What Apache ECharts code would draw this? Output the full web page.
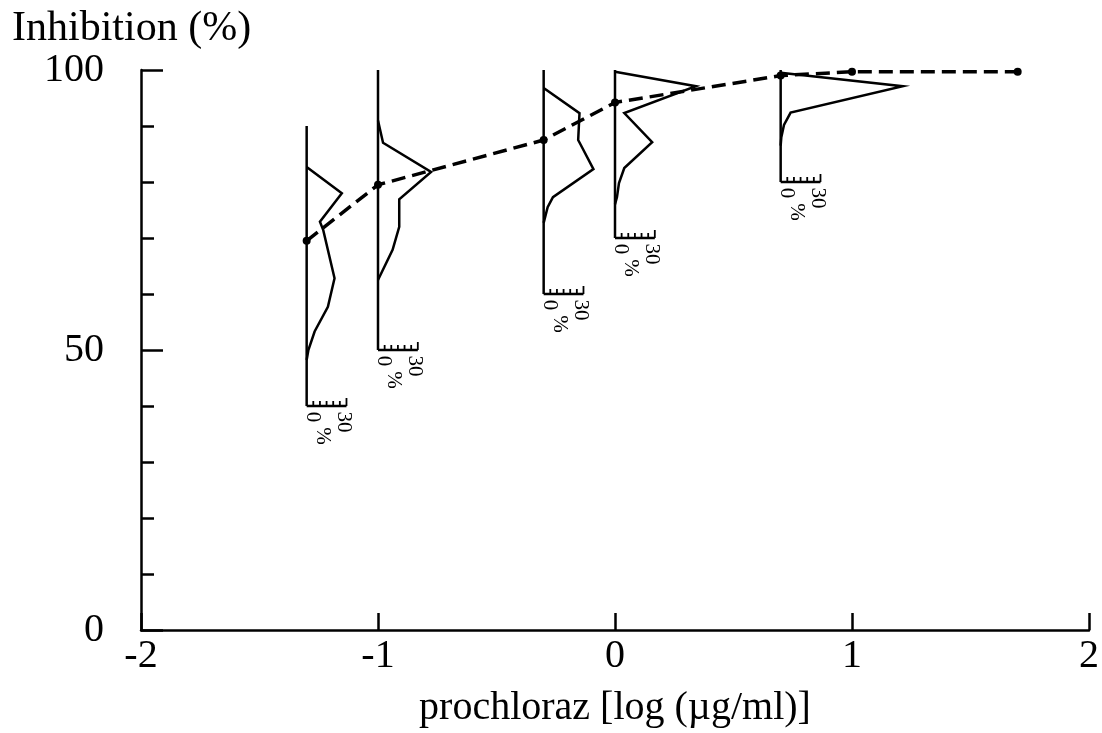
<!DOCTYPE html>
<html>
<head>
<meta charset="utf-8">
<script src="https://cdn.jsdelivr.net/npm/echarts@6/dist/echarts.min.js"></script>
<style>
  html, body { margin: 0; padding: 0; background: #fff; }
  #chart { width: 1102px; height: 733px; }
</style>
</head>
<body>
<div id="chart"></div>
<script>
// 剂量-抑制曲线 + 各剂量下的抑制分布（竖向小直方图）
const FONT = "'Liberation Serif', 'Times New Roman', serif";

// 平均抑制率（虚线）
const doseLog = [-1.301, -1, -0.301, 0, 0.699, 1, 1.699];
const meanInhib = [69.5, 79.5, 87.5, 94.2, 99, 99.7, 99.7];

// 分布图：所在剂量、纵轴上下限、轮廓 [抑制率, 百分比]
const histDose = [-1.301, -1, -0.301, 0, 0.699];
const histTop = [90, 100, 100, 100, 100];
const histBottom = [40, 50, 60, 70, 80];
const hist1 = [[82.7, 0], [78, 26.5], [72.9, 10], [71.4, 12.5], [62.8, 21], [57.7, 16], [53.3, 6], [50, 1.3], [48.2, 0]];
const hist2 = [[91, 0], [87, 3.8], [81.8, 40], [76.9, 16], [72, 16], [67.9, 11], [62.5, 0]];
const hist3 = [[96.8, 0], [92.3, 27], [87.5, 26], [86.6, 28], [82.3, 37.5], [77.3, 7], [75.5, 3], [72.7, 0]];
const hist4 = [[99.7, 0], [97.1, 61], [92.3, 7], [87.1, 28], [82.5, 7], [79.8, 3], [77.3, 1.5], [76, 0]];
const hist5 = [[99.5, 0], [97.1, 92], [92.4, 7.5], [90.2, 2.5], [88, 0.5], [86.5, 0]];
const histProfiles = [hist1, hist2, hist3, hist4, hist5];
const scaleTicks = [5, 10, 15, 20, 25, 30];

const pctToLog = 0.168 / 30; // 30% 在横轴上占的对数宽度

const chart = echarts.init(document.getElementById("chart"));

function renderHist(params, api) {
  const i = params.dataIndex;
  const dose = api.value(0), top = api.value(1), bottom = api.value(2);
  const at = (pct, y) => api.coord([dose + pct * pctToLog, y]);
  const p0 = at(0, bottom), pTop = at(0, top);
  const kids = [];
  const line = { stroke: "#000", lineWidth: 2.5, fill: null };
  kids.push({ type: "line", shape: { x1: p0[0], y1: p0[1], x2: pTop[0], y2: pTop[1] }, style: line });
  kids.push({ type: "polyline", shape: { points: histProfiles[i].map(d => at(d[1], d[0])) }, style: line });
  // 标尺 0-30%
  const p30 = at(30, bottom);
  kids.push({ type: "line", shape: { x1: p0[0], y1: p0[1], x2: p30[0], y2: p30[1] }, style: line });
  for (const t of scaleTicks) {
    const p = at(t, bottom);
    kids.push({ type: "line", shape: { x1: p[0], y1: p[1], x2: p[0], y2: p[1] - (t === 30 ? 8 : 5) },
      style: { stroke: "#000", lineWidth: 1.8 } });
  }
  const txt = (s, x, y) => ({
    type: "text", x, y, rotation: -Math.PI / 2,
    style: { text: s, fill: "#000", font: "21px " + FONT, align: "center", verticalAlign: "middle" }
  });
  kids.push(txt("0", p0[0] + 6, p0[1] + 11));
  kids.push(txt("30", p30[0] - 3, p0[1] + 16));
  kids.push(txt("%", p0[0] + 16, p0[1] + 30));
  return { type: "group", children: kids };
}

chart.setOption({
  animation: false,
  backgroundColor: "#fff",
  grid: { left: 141, right: 9, top: 70, bottom: 103 },
  graphic: [{
    type: "text", left: 12, top: 8,
    style: { text: "Inhibition (%)", fill: "#000", font: "42px " + FONT }
  }],
  xAxis: {
    type: "value", min: -2, max: 2, interval: 1,
    name: "prochloraz [log (µg/ml)]", nameLocation: "middle", nameGap: 58,
    nameTextStyle: { color: "#000", fontFamily: FONT, fontSize: 40 },
    axisLine: { onZero: false, lineStyle: { color: "#000", width: 2.5 } },
    axisTick: { inside: true, length: 17, lineStyle: { color: "#000", width: 2.5 } },
    axisLabel: { color: "#000", fontFamily: FONT, fontSize: 40, margin: 6 },
    splitLine: { show: false }
  },
  yAxis: {
    type: "value", min: 0, max: 100, interval: 50,
    axisLine: { show: true, onZero: false, lineStyle: { color: "#000", width: 2.5 } },
    axisTick: { show: true, inside: true, length: 22, lineStyle: { color: "#000", width: 2.5 } },
    minorTick: { show: true, splitNumber: 5, length: 13, lineStyle: { color: "#000", width: 2.5 } },
    axisLabel: { color: "#000", fontFamily: FONT, fontSize: 40, margin: 37 },
    splitLine: { show: false }
  },
  series: [
    {
      type: "custom",
      renderItem: renderHist,
      data: histDose.map((d, i) => [d, histTop[i], histBottom[i]]),
      encode: { x: 0, y: [1, 2] },
      z: 2
    },
    {
      type: "line",
      data: doseLog.map((d, i) => [d, meanInhib[i]]),
      symbol: "circle", symbolSize: 8,
      itemStyle: { color: "#000" },
      lineStyle: { color: "#000", width: 3.5, type: [14, 7] },
      z: 3
    }
  ]
});
</script>
</body>
</html>
